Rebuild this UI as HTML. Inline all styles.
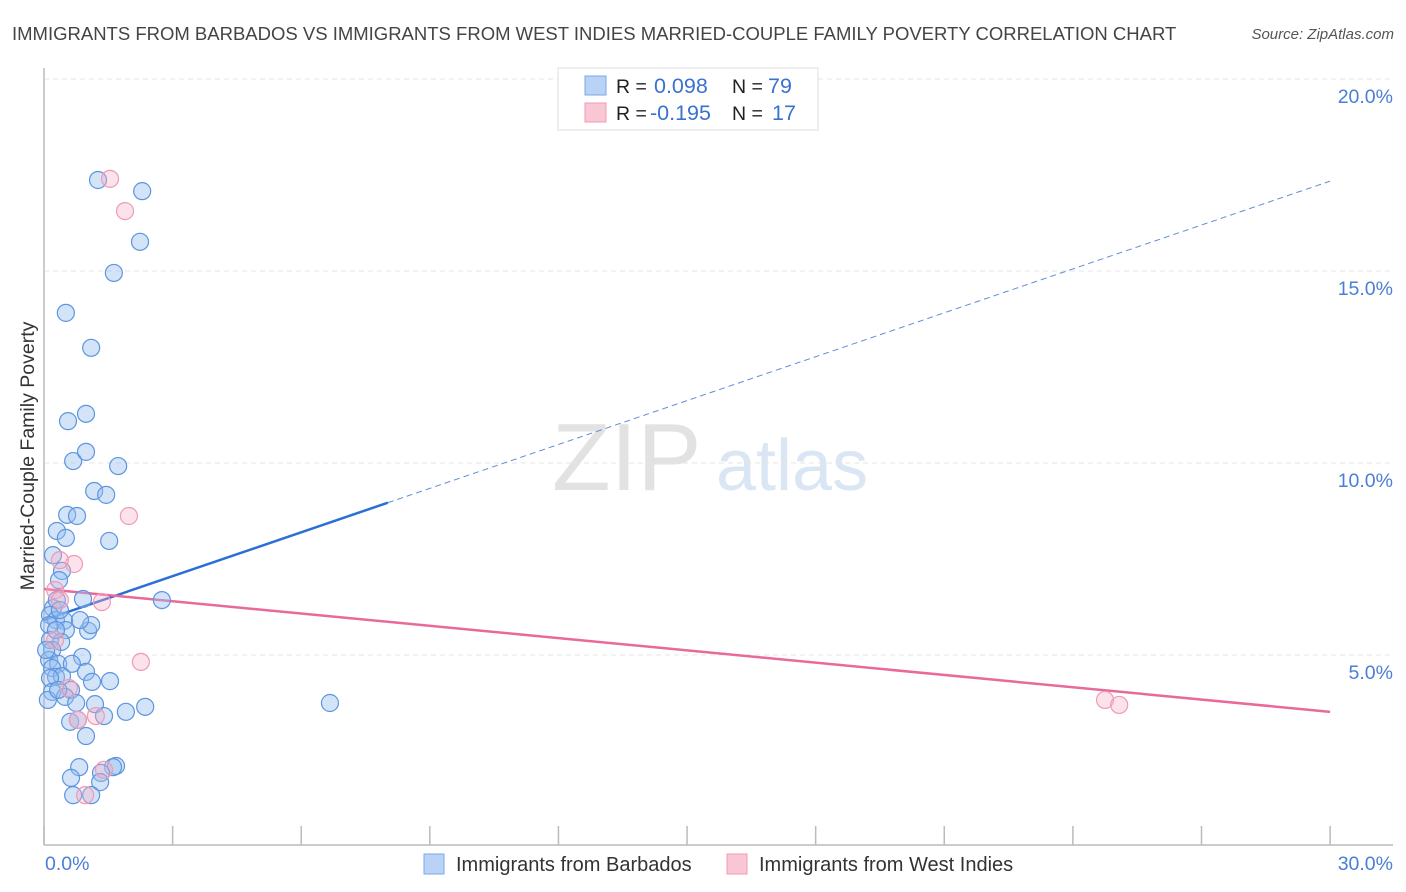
<!DOCTYPE html>
<html><head><meta charset="utf-8">
<style>
body{margin:0;background:#fff;font-family:"Liberation Sans",sans-serif;}
#wrap{position:relative;width:1406px;height:892px;overflow:hidden;}
svg text{font-family:"Liberation Sans",sans-serif;}
</style></head>
<body>
<div id="wrap">
<svg id="chart" width="1406" height="892" xmlns="http://www.w3.org/2000/svg">
<text x="12" y="40" font-size="18.5" fill="#444">IMMIGRANTS FROM BARBADOS VS IMMIGRANTS FROM WEST INDIES MARRIED-COUPLE FAMILY POVERTY CORRELATION CHART</text>
<text x="1394" y="39" font-size="15" fill="#555" font-style="italic" text-anchor="end">Source: ZipAtlas.com</text>
<text transform="translate(34,456) rotate(-90)" font-size="19.5" fill="#333" text-anchor="middle">Married-Couple Family Poverty</text>
<g>
<text x="552" y="490" font-size="96" fill="#e2e2e2" font-family="Liberation Serif, serif">ZIP</text>
<text x="716" y="490" font-size="72" fill="#dbe6f5">atlas</text>
</g>
<g id="grid"></g>
<g id="axes"></g>
<g id="lines"></g>
<g id="pts"></g>
<g>
<rect x="558" y="68" width="260" height="62" fill="#fff" stroke="#ddd"/>
<rect x="585" y="76" width="21" height="19" fill="#b8d3f5" stroke="#7aa8e6"/>
<rect x="585" y="103" width="21" height="19" fill="#f9c6d4" stroke="#f09ab5"/>
<text x="616" y="93" font-size="19.5" fill="#222">R = </text><text x="654" y="93" font-size="21.5" fill="#3a72d0">0.098</text>
<text x="732" y="93" font-size="19.5" fill="#222">N = </text><text x="768" y="93" font-size="21.5" fill="#3a72d0">79</text>
<text x="616" y="120" font-size="19.5" fill="#222">R = </text><text x="650" y="120" font-size="21.5" fill="#3a72d0">-0.195</text>
<text x="732" y="120" font-size="19.5" fill="#222">N = </text><text x="772" y="120" font-size="21.5" fill="#3a72d0">17</text>
</g>
<g>
<rect x="424" y="854" width="20" height="20" fill="#b8d3f5" stroke="#7aa8e6"/>
<text x="456" y="871" font-size="20" fill="#333">Immigrants from Barbados</text>
<rect x="727" y="854" width="20" height="20" fill="#f9c6d4" stroke="#f09ab5"/>
<text x="759" y="871" font-size="20" fill="#333">Immigrants from West Indies</text>
</g>
</svg>
</div>
<script>
const blueX=[1.26,2.29,2.24,1.63,0.51,1.10,0.56,0.98,0.68,0.98,1.73,1.17,1.45,0.54,0.77,0.30,0.51,1.52,0.21,0.42,0.35,0.91,0.21,0.30,2.75,0.14,0.28,0.47,0.12,0.51,1.03,1.10,0.14,0.40,0.19,0.12,0.89,0.33,0.65,0.19,0.98,0.28,0.42,0.14,0.63,1.12,1.54,0.19,0.49,0.75,1.19,1.91,2.36,1.40,0.61,0.79,6.67,0.98,0.82,0.63,1.68,1.61,1.33,1.31,0.68,1.10,0.09,0.33,0.05,0.28,0.37,0.84];
const blueY=[17.37,17.08,15.76,14.95,13.91,13.0,11.09,11.28,10.05,10.29,9.92,9.27,9.17,8.65,8.62,8.23,8.05,7.97,7.60,7.19,6.95,6.46,6.22,6.43,6.43,6.04,5.91,5.89,5.78,5.65,5.63,5.78,5.39,5.34,5.13,4.87,4.95,4.77,4.77,4.66,4.56,4.43,4.45,4.40,4.09,4.30,4.32,4.04,3.91,3.75,3.72,3.52,3.65,3.41,3.26,3.31,3.75,2.89,2.08,1.80,2.11,2.08,1.93,1.69,1.35,1.35,3.83,4.09,5.13,5.65,6.17,5.91];
const pinkX=[1.54,1.89,1.98,0.70,0.37,1.35,0.26,0.37,2.26,0.58,0.79,1.21,1.40,0.96,24.75,25.08,0.26];
const pinkY=[17.40,16.56,8.62,7.37,7.47,6.38,6.69,6.43,4.82,4.14,3.31,3.41,2.01,1.35,3.83,3.70,5.39];
const yTicks=[5,10,15,20];
const yTickLabels=["5.0%","10.0%","15.0%","20.0%"];
const xTicks=[0,3,6,9,12,15,18,21,24,27,30];
const xEndLabels=["0.0%","30.0%"];
const blueTrend=[5.91,17.34];
const blueSolidEnd=8.02;
const pinkTrend=[6.72,3.52];

const NS="http://www.w3.org/2000/svg";
const sx=v=>44+v*42.87;
const sy=v=>847-v*38.4;
function mk(tag,attrs,parent){const e=document.createElementNS(NS,tag);for(const k in attrs)e.setAttribute(k,attrs[k]);parent.appendChild(e);return e;}
const grid=document.getElementById('grid'),axes=document.getElementById('axes'),lines=document.getElementById('lines'),pts=document.getElementById('pts');
yTicks.forEach((t,i)=>{
  const l=mk('line',{x1:44,x2:1393,y1:sy(t),y2:sy(t),stroke:'#e4e4e4','stroke-dasharray':'5,4'},grid);
  
  
  const tx=mk('text',{x:1393,y:sy(t)+24,'font-size':19.5,fill:'#4a7fd4','text-anchor':'end'},axes);
  tx.textContent=yTickLabels[i];
  
  
});
const ax=mk('line',{x1:44,x2:1393,y1:845,y2:845,stroke:'#bbb','stroke-width':1.5},axes);


const ay=mk('line',{x1:44,x2:44,y1:68,y2:845,stroke:'#bbb','stroke-width':1.5},axes);


xTicks.forEach(t=>{
  const l=mk('line',{x1:sx(t),x2:sx(t),y1:826,y2:845,stroke:'#bbb','stroke-width':1.5},axes);
  
  
});
const xl0=mk('text',{x:45,y:870,'font-size':19.5,fill:'#4a7fd4'},axes);xl0.textContent=xEndLabels[0];


const xl1=mk('text',{x:1393,y:870,'font-size':19.5,fill:'#4a7fd4','text-anchor':'end'},axes);xl1.textContent=xEndLabels[1];



function pts2(X,Y,fill,stroke,name){X.forEach((x,i)=>{
  const c=mk('circle',{cx:sx(x),cy:sy(Y[i]),r:8.5,fill:fill,stroke:stroke,'stroke-width':1.2},pts);
  
  
});}
pts2(blueX,blueY,'rgba(150,190,240,0.42)','#5d95de','barbados-point');
pts2(pinkX,pinkY,'rgba(245,175,198,0.35)','#f09ab5','west-indies-point');

const by=x=>blueTrend[0]+(blueTrend[1]-blueTrend[0])*x/30;
const b1=mk('line',{x1:sx(0),y1:sy(by(0)),x2:sx(blueSolidEnd),y2:sy(by(blueSolidEnd)),stroke:'#2a6fd6','stroke-width':2.5},lines);


const b2=mk('line',{x1:sx(blueSolidEnd),y1:sy(by(blueSolidEnd)),x2:sx(30),y2:sy(by(30)),stroke:'#5d8fd8','stroke-width':1,'stroke-dasharray':'6,4'},lines);


const p1=mk('line',{x1:sx(0),y1:sy(pinkTrend[0]),x2:sx(30),y2:sy(pinkTrend[1]),stroke:'#e8699a','stroke-width':2.5},lines);


</script>
</body></html>
